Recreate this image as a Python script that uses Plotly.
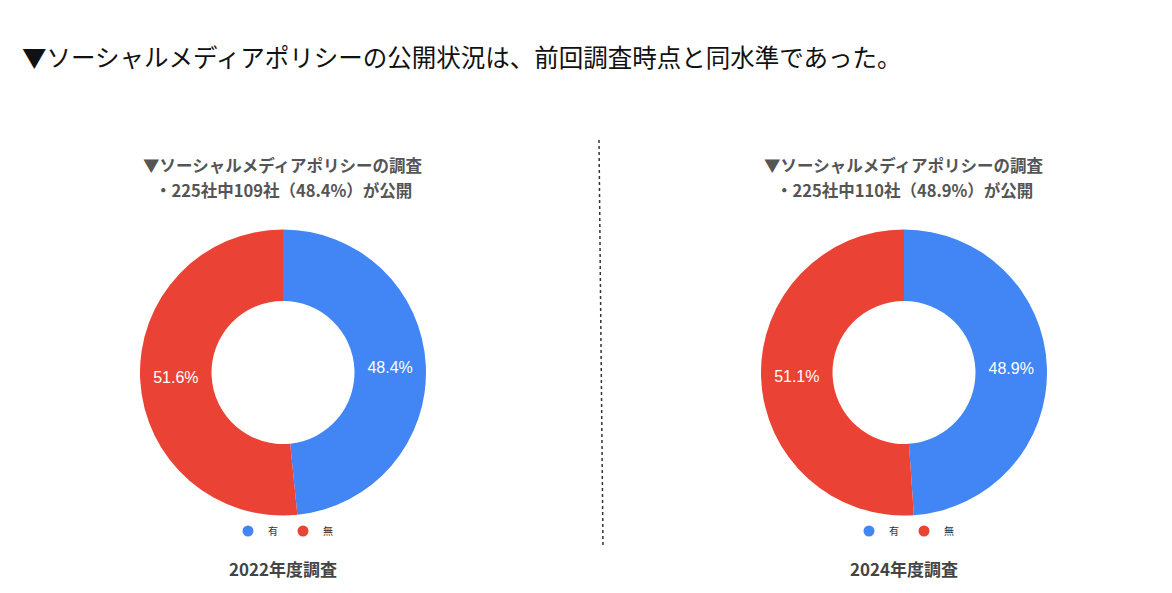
import plotly.graph_objects as go

W, H = 1172, 593
OFF = 8  # page body margin
labels = ["有", "無"]
values_2022 = [48.4, 51.6]
values_2024 = [48.9, 51.1]
colors = ["#4285F4", "#EA4335"]
main_title = "▼ソーシャルメディアポリシーの公開状況は、前回調査時点と同水準であった。"
sub1 = "▼ソーシャルメディアポリシーの調査"
sub2_2022 = "・225社中109社（48.4%）が公開"
sub2_2024 = "・225社中110社（48.9%）が公開"
cap_2022 = "2022年度調査"
cap_2024 = "2024年度調査"

def px(x):
    return (x - OFF) / W

def py(y):
    return 1 - (y - OFF) / H

fig = go.Figure()
for vals, (x0, x1) in [(values_2022, (140, 426)), (values_2024, (761, 1047))]:
    fig.add_trace(go.Pie(
        labels=labels, values=vals, hole=0.5, sort=False, direction="clockwise", rotation=0,
        marker=dict(colors=colors),
        texttemplate="%{value:.1f}%", textposition="inside",
        insidetextorientation="horizontal",
        textfont=dict(color="white", size=16, family="Arial, Liberation Sans, sans-serif"),
        domain=dict(x=[px(x0), px(x1)], y=[py(516), py(229)]),
        showlegend=False, hoverinfo="label+percent",
    ))

for leg in ["legend", "legend2"]:
    for lab, col in zip(labels, colors):
        fig.add_trace(go.Scatter(x=[None], y=[None], mode="markers", name=lab,
                                 marker=dict(color=col, size=11, symbol="circle"),
                                 legend=leg, showlegend=True))

fig.add_annotation(x=px(20), y=py(57), xref="paper", yref="paper", xanchor="left", yanchor="middle",
                   text=main_title, showarrow=False,
                   font=dict(size=24.5, color="#111111", family="Noto Sans CJK JP"))
for cx, sub2, cap in [(283, sub2_2022, cap_2022), (904, sub2_2024, cap_2024)]:
    fig.add_annotation(x=px(cx), y=py(165), xref="paper", yref="paper", xanchor="center", yanchor="middle",
                       text="<b>" + sub1 + "</b>", showarrow=False,
                       font=dict(size=16.5, color="#555555", family="Noto Sans CJK JP"))
    fig.add_annotation(x=px(cx), y=py(190), xref="paper", yref="paper", xanchor="center", yanchor="middle",
                       text="<b>" + sub2 + "</b>", showarrow=False,
                       font=dict(size=16.5, color="#555555", family="Noto Sans CJK JP"))
    fig.add_annotation(x=px(cx), y=py(568), xref="paper", yref="paper", xanchor="center", yanchor="middle",
                       text="<b>" + cap + "</b>", showarrow=False,
                       font=dict(size=17, color="#444444", family="Noto Sans CJK JP"))

fig.add_shape(type="line", xref="paper", yref="paper", x0=px(599), y0=py(140), x1=px(603), y1=py(546),
              line=dict(color="#333333", width=1.5, dash="dot"))

legend_style = dict(orientation="h", xanchor="center", yanchor="middle", bgcolor="rgba(0,0,0,0)",
                    font=dict(size=10, color="#333333", family="Noto Sans CJK JP"),
                    itemwidth=30)
fig.update_layout(
    width=W, height=H,
    margin=dict(l=0, r=0, t=0, b=0),
    paper_bgcolor="white", plot_bgcolor="white",
    xaxis=dict(visible=False), yaxis=dict(visible=False),
    legend=dict(x=px(283), y=py(531), **legend_style),
    legend2=dict(x=px(904), y=py(531), **legend_style),
)
fig.write_html("out.html")
